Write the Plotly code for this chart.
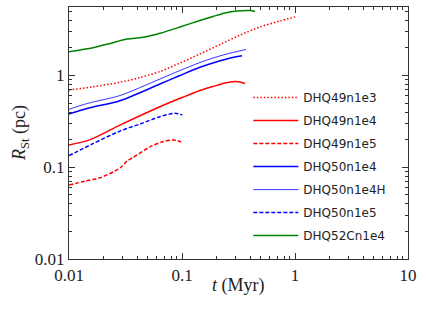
import plotly.graph_objects as go

# ---- data (t in Myr, R_St in pc) ----
t_49n1e3 = [0.01, 0.0163, 0.0282, 0.0425, 0.0638, 0.0959, 0.144, 0.217, 0.326, 0.49, 0.736, 1.0]
R_49n1e3 = [0.695, 0.755, 0.843, 0.951, 1.105, 1.368, 1.716, 2.18, 2.76, 3.38, 3.93, 4.34]

t_49n1e4 = [0.01, 0.0154, 0.0282, 0.0638, 0.1, 0.144, 0.188, 0.240, 0.294, 0.326, 0.361]
R_49n1e4 = [0.175, 0.20, 0.288, 0.457, 0.575, 0.686, 0.759, 0.829, 0.86, 0.849, 0.818]

t_49n1e5 = [0.01, 0.01386, 0.0188, 0.0255, 0.0294, 0.0326, 0.0368, 0.0521, 0.0679, 0.0832, 0.0922, 0.1]
R_49n1e5 = [0.064, 0.0707, 0.0768, 0.0909, 0.1018, 0.117, 0.1276, 0.167, 0.19, 0.198, 0.195, 0.185]

t_50n1e4 = [0.01, 0.01303, 0.0163, 0.0282, 0.0638, 0.0959, 0.144, 0.188, 0.240, 0.294, 0.34]
R_50n1e4 = [0.38, 0.42, 0.453, 0.531, 0.808, 1.0, 1.229, 1.369, 1.495, 1.591, 1.644]

t_50n1e4H = [0.01, 0.01303, 0.0163, 0.0282, 0.0638, 0.0959, 0.144, 0.188, 0.240, 0.294, 0.368]
R_50n1e4H = [0.428, 0.477, 0.514, 0.605, 0.916, 1.134, 1.386, 1.552, 1.694, 1.804, 1.921]

t_50n1e5 = [0.01, 0.0163, 0.0282, 0.0425, 0.0638, 0.0867, 0.1007]
R_50n1e5 = [0.134, 0.181, 0.248, 0.296, 0.356, 0.387, 0.371]

t_52Cn1e4 = [0.01, 0.0163, 0.0231, 0.0326, 0.0452, 0.0638, 0.0959, 0.144, 0.188, 0.240, 0.307, 0.40, 0.443]
R_52Cn1e4 = [1.82, 2.01, 2.24, 2.50, 2.61, 2.89, 3.38, 3.98, 4.40, 4.80, 5.05, 5.11, 4.99]

x_tickvals = [0.01, 0.1, 1, 10]
x_ticktext = ["0.01", "0.1", "1", "10"]
y_tickvals = [0.01, 0.1, 1]
y_ticktext = ["0.01", "0.1", "1"]
x_title = "<i>t</i> (Myr)"
y_title = "<i>R</i><sub>St</sub> (pc)"

series = [
    ("DHQ49n1e3", t_49n1e3, R_49n1e3, "#ff0000", "1.5px,2px", 1.5),
    ("DHQ49n1e4", t_49n1e4, R_49n1e4, "#ff0000", "solid", 1.5),
    ("DHQ49n1e5", t_49n1e5, R_49n1e5, "#ff0000", "4px,2px", 1.5),
    ("DHQ50n1e4", t_50n1e4, R_50n1e4, "#0000ff", "solid", 1.5),
    ("DHQ50n1e4H", t_50n1e4H, R_50n1e4H, "#0000ff", "solid", 0.8),
    ("DHQ50n1e5", t_50n1e5, R_50n1e5, "#0000ff", "4px,2px", 1.5),
    ("DHQ52Cn1e4", t_52Cn1e4, R_52Cn1e4, "#008000", "solid", 1.5),
]

fig = go.Figure()
for i, (name, t, r, col, dash, w) in enumerate(series):
    fig.add_trace(go.Scatter(
        x=t, y=r, mode="lines", name=name, legendgroup=f"g{i}",
        line=dict(color=col, dash=dash, width=w, shape="spline", smoothing=0.8),
    ))

minor_x = [k * 10.0 ** d for d in (-2, -1, 0) for k in range(2, 10)]
minor_y = [k * 10.0 ** d for d in (-2, -1, 0) for k in range(2, 10)]

axis_common = dict(
    type="log", showgrid=False, zeroline=False, automargin=False,
    showline=True, linecolor="#333333", linewidth=1.2, mirror="allticks",
    ticks="inside", ticklen=6, tickwidth=1, tickcolor="#333333",
    tickfont=dict(family="Liberation Serif, serif", size=17, color="#222222"),
)

fig.update_xaxes(
    range=[-2, 1], tickmode="array", tickvals=x_tickvals, ticktext=x_ticktext,
    minor=dict(tickmode="array", tickvals=minor_x, ticks="inside", ticklen=3,
               tickcolor="#333333", showgrid=False),
    **axis_common,
)
fig.update_yaxes(
    range=[-2, 0.747], tickmode="array", tickvals=y_tickvals, ticktext=y_ticktext,
    minor=dict(tickmode="array", tickvals=minor_y, ticks="inside", ticklen=3,
               tickcolor="#333333", showgrid=False),
    **axis_common,
)

title_font = dict(family="Liberation Serif, serif", size=18, color="#222222")
fig.add_annotation(text=x_title, xref="paper", yref="paper", x=0.5, y=-0.107,
                   xanchor="center", yanchor="middle", showarrow=False, font=title_font)
fig.add_annotation(text=y_title, xref="paper", yref="paper", x=-0.1445, y=0.5,
                   xanchor="center", yanchor="middle", textangle=-90,
                   showarrow=False, font=title_font)

fig.update_layout(
    width=426, height=312,
    margin=dict(l=69, r=18, t=7, b=53),
    paper_bgcolor="white", plot_bgcolor="white",
    showlegend=True,
    legend=dict(
        x=0.529, y=0.698, xanchor="left", yanchor="top",
        bgcolor="rgba(0,0,0,0)", borderwidth=0,
        font=dict(family="DejaVu Sans, sans-serif", size=12, color="#222222"),
        tracegroupgap=4, itemwidth=45,
    ),
)

fig.write_html("out.html", post_script="document.body.style.margin='0';",
               config={"displayModeBar": False})
